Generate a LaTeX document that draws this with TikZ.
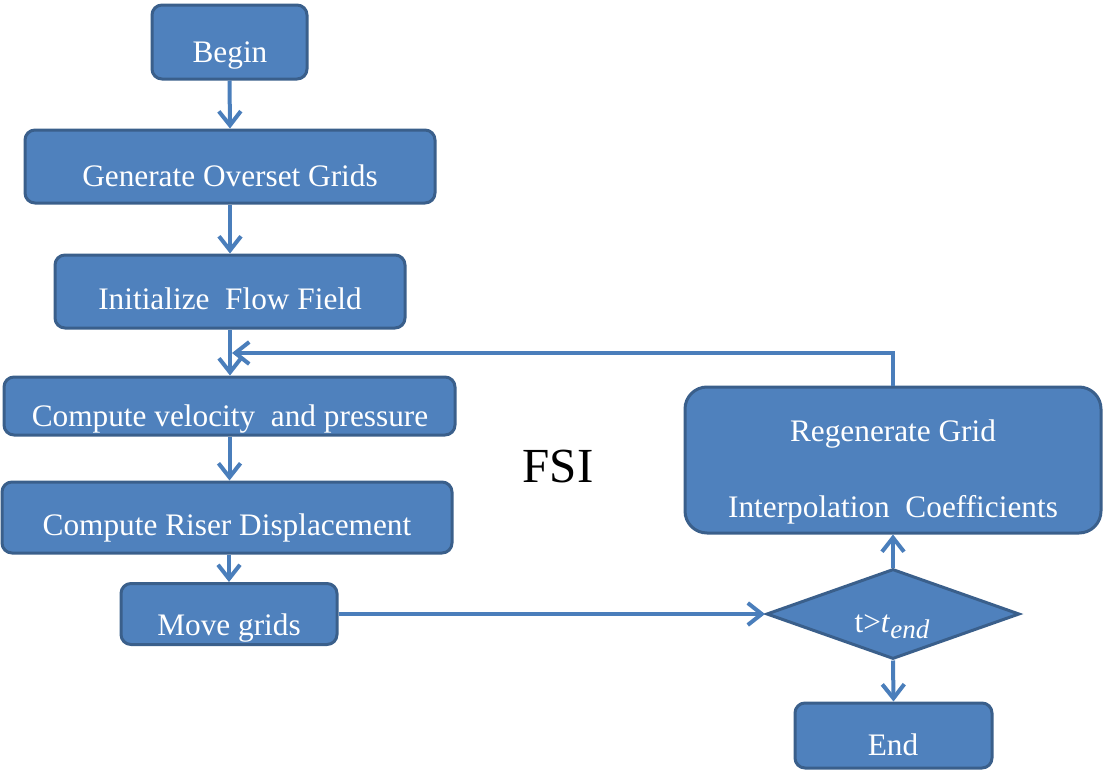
\documentclass[tikz,border=0pt]{standalone}
\usepackage{fontspec}
\setmainfont{Liberation Serif}
\usetikzlibrary{shapes.geometric,arrows.meta}
\definecolor{boxfill}{HTML}{4F81BD}
\definecolor{boxedge}{HTML}{3A5F8B}
\definecolor{arrowc}{HTML}{4A7EBB}
\tikzset{
  flowbox/.style={draw=boxedge, fill=boxfill, line width=3pt, rounded corners=10pt, inner sep=0pt},
  decision/.style={draw=boxedge, fill=boxfill, line width=3pt, diamond, inner sep=0pt},
  boxtext/.style={text=white, anchor=base, inner sep=0pt, font=\fontsize{31.3}{37}\selectfont},
  conn/.style={draw=arrowc, line width=4pt, -{Straight Barb[length=14pt,width=22pt,line width=4pt]}}
}
\begin{document}
\begin{tikzpicture}[x=1pt,y=-1pt]
\useasboundingbox (0,0) rectangle (1103,771);
% boxes
\node[flowbox, minimum width=155, minimum height=74] (begin) at (229.5,42) {};
\node[flowbox, minimum width=410, minimum height=73] (gen) at (230,166.5) {};
\node[flowbox, minimum width=350, minimum height=73] (init) at (230,291.5) {};
\node[flowbox, minimum width=451, minimum height=58] (vel) at (229.5,406) {};
\node[flowbox, minimum width=450, minimum height=71] (riser) at (227,517.5) {};
\node[flowbox, minimum width=216, minimum height=61] (move) at (229,614) {};
\node[flowbox, rounded corners=22pt, minimum width=416, minimum height=146] (regen) at (893,460) {};
\node[decision, minimum width=253, minimum height=90] (dia) at (893,614) {};
\node[flowbox, minimum width=197, minimum height=65] (end) at (893.5,735.5) {};
% texts
\node[boxtext] (tbegin) at (230,62) {Begin};
\node[boxtext] (tgen) at (230,186) {Generate Overset Grids};
\node[boxtext] (tinit) at (230,309) {Initialize\ \ Flow Field};
\node[boxtext] (tvel) at (230,426) {Compute velocity\ \ and pressure};
\node[boxtext] (triser) at (227,535) {Compute Riser Displacement};
\node[boxtext] (tmove) at (229,635) {Move grids};
\node[boxtext] (tregen1) at (893,441) {Regenerate Grid};
\node[boxtext] (tregen2) at (893,517) {Interpolation\ \ Coefficients};
\node[boxtext] (tdia) at (892,632) {t>\textit{t}\raisebox{-6pt}{\fontsize{27}{30}\selectfont\textit{end}}};
\node[boxtext] (tend) at (893,755) {End};
\node[anchor=base, inner sep=0pt, font=\fontsize{49}{55}\selectfont] (fsi) at (558,482) {FSI};
% connectors
\coordinate (fb) at (232,353);
\draw[conn] (begin.south) -- (gen.north);
\draw[conn] (gen.south) -- (init.north);
\draw[conn] (init.south) -- (init.south |- vel.north);
\draw[conn] (vel.south) -- (vel.south |- riser.north);
\draw[conn] (riser.south -| move.north) -- (move.north);
\draw[conn] (move.east) -- (dia.west);
\draw[conn] (dia.north) -- (regen.south);
\draw[conn] (dia.south) -- (end.north);
\draw[conn] (regen.north) |- (fb);
\end{tikzpicture}
\end{document}
